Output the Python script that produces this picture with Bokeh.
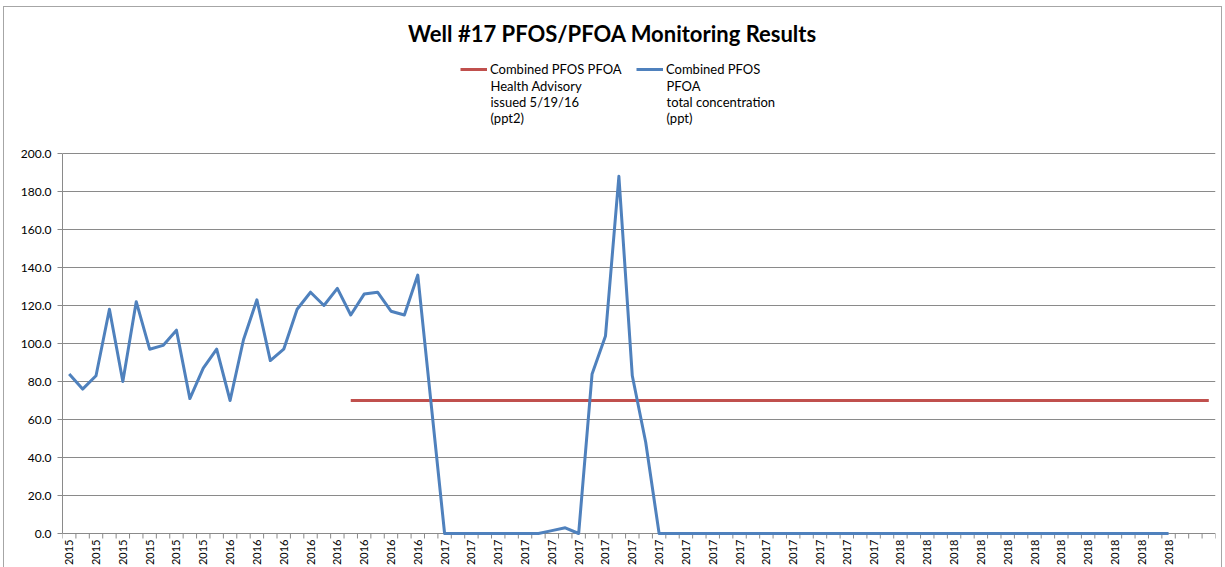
import math
from bokeh.plotting import figure
from bokeh.models import (Legend, LegendItem, FixedTicker, Range1d, NumeralTickFormatter,
                          ColumnDataSource, Label)
from bokeh.embed import file_html
from bokeh.resources import INLINE

# ---- data ----
# combined PFOS+PFOA total concentration (ppt), one value per sampling category
total_concentration = [
    84, 76, 83, 118, 80, 122, 97, 99, 107, 71,
    87, 97, 70, 102, 123, 91, 97, 118, 127, 120,
    129, 115, 126, 127, 117, 115, 136, 68, 0, 0,
    0, 0, 0, 0, 0, 0, 1.5, 3, 0, 84,
    104, 188, 83, 48, 0, 0, 0, 0, 0, 0,
    0, 0, 0, 0, 0, 0, 0, 0, 0, 0,
    0, 0, 0, 0, 0, 0, 0, 0, 0, 0,
    0, 0, 0, 0, 0, 0, 0, 0, 0, 0,
    0, 0, 0,
]
# health advisory (ppt), issued 5/19/16 (starts at category 21, runs to category 85)
nan = float("nan")
health_advisory = [
    nan, nan, nan, nan, nan, nan, nan, nan, nan, nan,
    nan, nan, nan, nan, nan, nan, nan, nan, nan, nan,
    nan, 70, 70, 70, 70, 70, 70, 70, 70, 70,
    70, 70, 70, 70, 70, 70, 70, 70, 70, 70,
    70, 70, 70, 70, 70, 70, 70, 70, 70, 70,
    70, 70, 70, 70, 70, 70, 70, 70, 70, 70,
    70, 70, 70, 70, 70, 70, 70, 70, 70, 70,
    70, 70, 70, 70, 70, 70, 70, 70, 70, 70,
    70, 70, 70, 70, 70, 70,
]
# year labels shown on every second category
tick_labels = [
    "2015", "2015", "2015", "2015", "2015", "2015",
    "2016", "2016", "2016", "2016", "2016", "2016", "2016", "2016",
    "2017", "2017", "2017", "2017", "2017", "2017", "2017", "2017", "2017",
    "2017", "2017", "2017", "2017", "2017", "2017", "2017", "2017",
    "2018", "2018", "2018", "2018", "2018", "2018", "2018", "2018", "2018", "2018", "2018",
]
y_ticks = [0, 20, 40, 60, 80, 100, 120, 140, 160, 180, 200]
title_text = "Well #17 PFOS/PFOA Monitoring Results"
legend_advisory = ["Combined PFOS PFOA", "Health Advisory", " issued 5/19/16", "(ppt2)"]
legend_total = ["Combined PFOS", "PFOA", "total concentration", "(ppt)"]

n_categories = len(health_advisory)

FONT = "Lato"
GRID = "#8a8a8a"
RED = "#C0504D"
BLUE = "#4F81BD"

# The plot frame spans the full canvas height; the value axis (0..200) occupies
# canvas rows 153..533 (1.9 px per unit); title/legend sit above, year labels below.
H = 567
AXIS_Y = 533
PX_PER_UNIT = 380 / 200
Y_TOP = AXIS_Y / PX_PER_UNIT
Y_BOTTOM = -(H - AXIS_Y) / PX_PER_UNIT

p = figure(width=1222, height=H, output_backend="svg", toolbar_location=None,
           x_range=Range1d(-0.5, n_categories - 0.5), y_range=Range1d(Y_BOTTOM, Y_TOP),
           min_border_left=62, min_border_right=7, min_border_top=0, min_border_bottom=0)
p.background_fill_alpha = 0
p.border_fill_alpha = 0
p.styles = {"box-shadow": "inset 3px 6px 0 white, inset 4px 7px 0 #a6a6a6, inset -1px 0 0 #a6a6a6"}

src_c = ColumnDataSource(dict(x=list(range(len(total_concentration))), y=total_concentration))
src_h = ColumnDataSource(dict(x=list(range(len(health_advisory))), y=health_advisory))

p.outline_line_color = None
p.xgrid.grid_line_color = None
p.ygrid.grid_line_color = GRID
p.ygrid.grid_line_width = 1
p.xaxis.visible = False

# y axis
p.yaxis.ticker = FixedTicker(ticks=y_ticks)
p.yaxis.bounds = (0, 200)
p.yaxis.formatter = NumeralTickFormatter(format="0.0")
p.yaxis.axis_line_color = GRID
p.yaxis.major_tick_line_color = GRID
p.yaxis.major_tick_out = 5
p.yaxis.major_tick_in = 0
p.yaxis.minor_tick_line_color = None
p.yaxis.major_label_text_font = FONT
p.yaxis.major_label_text_font_size = "12px"
p.yaxis.major_label_text_color = "black"
p.yaxis.major_label_standoff = 6

# category axis: boundary tick marks and year labels on every second category
boundaries = [i - 0.5 for i in range(n_categories + 1)]
label_ticks = list(range(0, 2 * len(tick_labels), 2))
p.ray(x=boundaries, y=[0] * len(boundaries), length=5, length_units="screen",
      angle=-math.pi / 2, line_color=GRID, line_width=1)
p.text(x=label_ticks, y=[0] * len(label_ticks), text=tick_labels, angle=math.pi / 2,
       text_align="right", text_baseline="middle", y_offset=6,
       text_font={"value": FONT}, text_font_size="11px", text_color="black")

r_h = p.line("x", "y", source=src_h, line_color=RED, line_width=3)
r_c = p.line("x", "y", source=src_c, line_color=BLUE, line_width=3, line_join="round")

# title (positions relative to the plot frame's bottom-left, in screen px, y up)
p.add_layout(Label(x=550, y=H - 33, x_units="screen", y_units="screen", text=title_text,
                   text_align="center", text_baseline="middle", text_font=FONT,
                   text_font_size="22px", text_font_style="bold", text_color="black"))

# legend: swatches via single-item legends, remaining lines via labels
for lines, rend, gx in ((legend_advisory, r_h, 398), (legend_total, r_c, 574)):
    lg = Legend(items=[LegendItem(label=lines[0], renderers=[rend])],
                location=(gx, H - 79), orientation="horizontal",
                label_text_font=FONT, label_text_font_size="13px", label_text_color="black",
                glyph_width=27, glyph_height=20, label_height=20, label_standoff=3,
                border_line_color=None, background_fill_alpha=0, padding=0, margin=0,
                spacing=0)
    p.add_layout(lg)
    for k, txt in enumerate(lines[1:], start=1):
        p.add_layout(Label(x=gx + 30, y=H - 69 - 16 * k, x_units="screen", y_units="screen",
                           text=txt, text_align="left", text_baseline="middle",
                           text_font=FONT, text_font_size="13px", text_color="black"))

open("out.html", "w").write(file_html(p, INLINE))
